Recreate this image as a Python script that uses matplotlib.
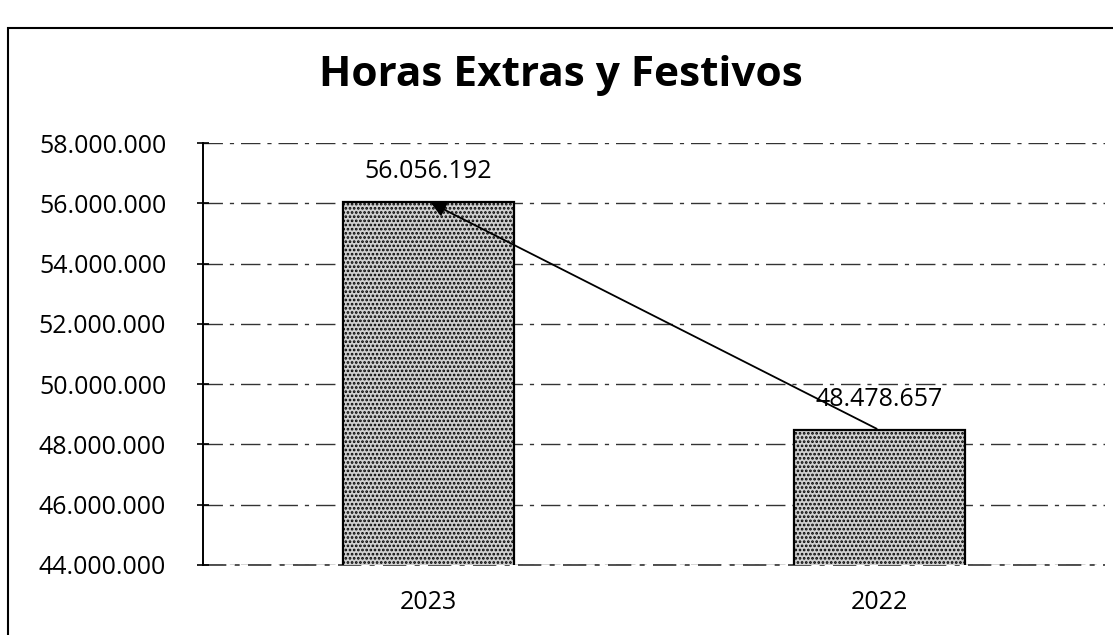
import matplotlib.pyplot as plt
import matplotlib.ticker as ticker
from matplotlib.patches import Rectangle

plt.rcParams['font.family'] = ['Open Sans', 'DejaVu Sans']
plt.rcParams['hatch.color'] = '#4a4a4a'
plt.rcParams['hatch.linewidth'] = 1.3

years = ["2023", "2022"]
values = [56056192, 48478657]
y_ticks = [44000000, 46000000, 48000000, 50000000, 52000000, 54000000, 56000000, 58000000]

def fmt(v):
    return f"{int(round(v)):,}".replace(",", ".")

fig = plt.figure(figsize=(11.13, 6.35), dpi=100)
fig.patch.set_facecolor('white')

# outer chart frame (runs off the right/bottom edge like the scan)
fig.add_artist(Rectangle((8 / 1113, -0.2), 1.2, 1 - 28 / 635 + 0.2, transform=fig.transFigure,
                         fill=False, edgecolor='black', lw=1.5))

fig.text(0.504, 1 - 75 / 635, "Horas Extras y Festivos", ha='center', va='center',
         fontsize=30.5, fontweight='bold')

ax = fig.add_axes([203 / 1113, 1 - 565 / 635, 0.81, (565 - 143) / 635])
x = range(len(years))
ax.bar(x, values, width=0.38, color='#d0d0d0', edgecolor='black', linewidth=1.6,
       hatch='....', zorder=3)

ax.set_xlim(-0.5, 1.5)
ax.set_ylim(y_ticks[0], y_ticks[-1])
ax.set_yticks(y_ticks)
ax.yaxis.set_major_formatter(ticker.FuncFormatter(lambda v, p: fmt(v)))
ax.set_xticks(list(x))
ax.set_xticklabels(years)
ax.tick_params(axis='y', direction='inout', length=9, width=1.2, labelsize=18, pad=22)
ax.tick_params(axis='x', length=0, labelsize=18, pad=18)

ax.grid(axis='y', color='#333333', linestyle=(0, (14, 5, 3, 5)), linewidth=1.0, zorder=0)
ax.axhline(y_ticks[0], color='#333333', linestyle=(0, (14, 5, 3, 5)), linewidth=1.2,
           zorder=1, clip_on=False)
for s in ['top', 'right', 'bottom']:
    ax.spines[s].set_visible(False)
ax.spines['left'].set_linewidth(1.4)

for i, v in enumerate(values):
    ax.text(i, v + 600000, fmt(v), ha='center', va='bottom', fontsize=18)

ax.annotate("", xy=(0, values[0]), xytext=(1, values[1]),
            arrowprops=dict(arrowstyle='-|>', color='black', lw=1.3, mutation_scale=22),
            zorder=5)

fig.savefig("out.png", dpi=100)
